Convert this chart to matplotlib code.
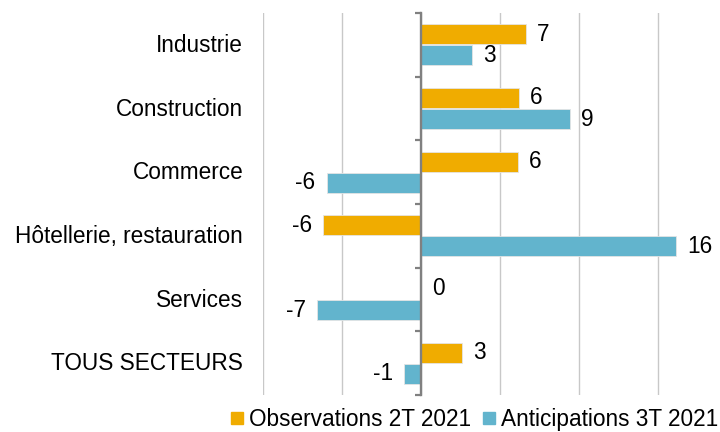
import numpy as np
import matplotlib
matplotlib.use("Agg")
import matplotlib.pyplot as plt
from matplotlib.lines import Line2D

plt.rcParams['font.family'] = ['Liberation Sans', 'DejaVu Sans']

# Données
secteurs = ['Industrie', 'Construction', 'Commerce', 'Hôtellerie, restauration',
            'Services', 'TOUS SECTEURS']
observations = [6.6, 6.2, 6.1, -6.2, 0.0, 2.6]
anticipations = [3.2, 9.4, -6.0, 16.1, -6.6, -1.1]
serie_noms = ['Observations 2T 2021', 'Anticipations 3T 2021']

orange = '#F0AC00'
bleu = '#62B4CD'
fs = 16.3

fig = plt.figure(figsize=(7.2, 4.32), dpi=100)
ax = fig.add_axes([263.3 / 720, 1 - 395 / 432, 1 - 263.3 / 720, (395 - 13) / 432])

y = np.arange(len(secteurs))
h = 0.31
off = 0.165
b1 = ax.barh(y - off, observations, height=h, color=orange, edgecolor='#e4e4e4', linewidth=0.6, zorder=3)
b2 = ax.barh(y + off, anticipations, height=h, color=bleu, edgecolor='#e4e4e4', linewidth=0.6, zorder=3)

ax.bar_label(b1, fmt='{:.0f}', padding=8, fontsize=fs)
ax.bar_label(b2, fmt='{:.0f}', padding=8, fontsize=fs)

xmin, xmax = -10, -10 + (720 - 263.3) / 15.8
ax.set_xlim(xmin, xmax)
ax.set_ylim(len(secteurs) - 0.5, -0.5)

ax.set_xticks([-10, -5, 0, 5, 10, 15])
ax.tick_params(axis='x', length=0, labelbottom=False)
ax.grid(axis='x', color='#c8c8c8', linewidth=1.0, zorder=0)

ax.set_yticks(y - 0.03)
ax.set_yticklabels(secteurs, fontsize=fs)
ax.tick_params(axis='y', length=0, pad=14.5)

for s in ax.spines.values():
    s.set_visible(False)

# axe vertical à zéro avec graduations entre catégories
loc0 = (0 - xmin) / (xmax - xmin)
sec = ax.secondary_yaxis(loc0)
sec.set_yticks(np.arange(len(secteurs) + 1) - 0.5)
sec.tick_params(axis='y', direction='out', length=4, width=1.6, color='#808080', labelleft=False)
sec.spines['left'].set_color('#808080')
sec.spines['left'].set_linewidth(1.7)
sec.set_zorder(4)

handles = [Line2D([], [], marker='s', linestyle='none', markersize=8, color=orange),
           Line2D([], [], marker='s', linestyle='none', markersize=8, color=bleu)]
fig.legend(handles, serie_noms, loc='lower right', bbox_to_anchor=(0.998, 0.003), ncol=2,
           frameon=False, fontsize=fs, handlelength=0.55, handletextpad=0.25,
           columnspacing=0.55, borderpad=0, borderaxespad=0)

fig.savefig('out.png', dpi=100)
